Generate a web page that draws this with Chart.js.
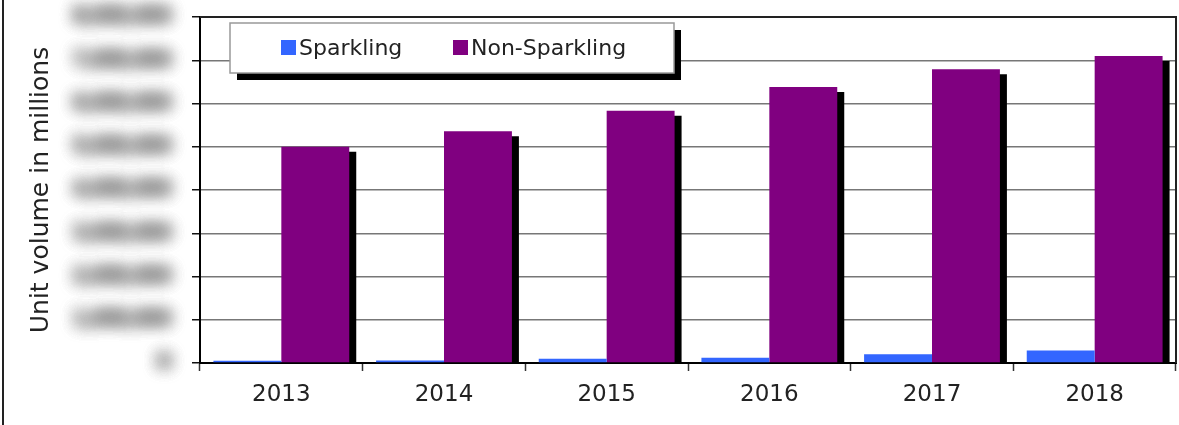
<!DOCTYPE html>
<html><head><meta charset="utf-8">
<script src="https://cdn.jsdelivr.net/npm/chart.js@4/dist/chart.umd.min.js"></script>
<style>html,body{margin:0;padding:0;background:#fff;}#wrap{width:1179px;height:425px;position:relative;overflow:hidden}</style>
</head><body><div id="wrap"><canvas id="c" width="1179" height="425"></canvas></div>
<script>
const categories = ['2013', '2014', '2015', '2016', '2017', '2018'];
const sparkling = [0.05, 0.06, 0.10, 0.12, 0.20, 0.29];
const nonSparkling = [5.00, 5.36, 5.83, 6.38, 6.79, 7.10];
const yTickValues = [0, 1, 2, 3, 4, 5, 6, 7, 8];
const yTickLabels = ['0', '1,000,000', '2,000,000', '3,000,000', '4,000,000', '5,000,000', '6,000,000', '7,000,000', '8,000,000'];
const seriesNames = ['Sparkling', 'Non-Sparkling'];
const seriesColors = ['#3366FF', '#800080'];

const FONT = '"DejaVu Sans", Verdana, sans-serif';

const decor = {
  id: 'decor',
  beforeDraw(chart) {
    const s = chart.scales.y;
    if (s && !s.__blur) {
      const orig = s.drawLabels.bind(s);
      s.drawLabels = function (area) {
        const ctx = this.ctx;
        ctx.save();
        ctx.filter = 'blur(8px)';
        orig(area);
        orig(area);
        orig(area);
        ctx.restore();
      };
      s.__blur = true;
    }
  },
  beforeDatasetDraw(chart, args) {
    const ctx = chart.ctx;
    ctx.save();
    if (args.index === 1) {
      ctx.shadowColor = '#000';
      ctx.shadowBlur = 0;
      ctx.shadowOffsetX = 7;
      ctx.shadowOffsetY = 5;
    }
  },
  afterDatasetDraw(chart) {
    chart.ctx.restore();
  },
  afterDraw(chart) {
    const ctx = chart.ctx;
    const a = chart.chartArea;
    ctx.save();
    // plot frame top / right
    ctx.strokeStyle = '#222';
    ctx.lineWidth = 2;
    ctx.beginPath();
    ctx.moveTo(a.left, a.top);
    ctx.lineTo(a.right, a.top);
    ctx.lineTo(a.right, a.bottom);
    ctx.stroke();
    // outer frame left line
    ctx.fillStyle = '#222';
    ctx.fillRect(2, 0, 2, 425);
    // legend box
    const lx = 230, ly = 23, lw = 444, lh = 50;
    ctx.fillStyle = '#000';
    ctx.fillRect(lx + 7, ly + 7, lw, lh);
    ctx.fillStyle = '#fff';
    ctx.fillRect(lx, ly, lw, lh);
    ctx.strokeStyle = '#999';
    ctx.lineWidth = 1.5;
    ctx.strokeRect(lx, ly, lw, lh);
    const itemX = [281, 453];
    ctx.font = '22px ' + FONT;
    ctx.textBaseline = 'alphabetic';
    ctx.textAlign = 'left';
    chart.data.datasets.forEach((ds, i) => {
      ctx.fillStyle = ds.backgroundColor;
      ctx.fillRect(itemX[i], 40, 15, 15);
      ctx.fillStyle = '#222';
      ctx.fillText(ds.label, itemX[i] + 18, 55);
    });
    ctx.restore();
  }
};

new Chart(document.getElementById('c'), {
  type: 'bar',
  data: {
    labels: categories,
    datasets: [
      { label: seriesNames[0], data: sparkling, backgroundColor: seriesColors[0], clip: 0 },
      { label: seriesNames[1], data: nonSparkling, backgroundColor: seriesColors[1], clip: 0 }
    ]
  },
  options: {
    responsive: false,
    animation: false,
    devicePixelRatio: 1,
    layout: { padding: { left: 0, right: 3, top: 17, bottom: 0 } },
    datasets: { bar: { categoryPercentage: 0.835, barPercentage: 1.0 } },
    plugins: { legend: { display: false }, tooltip: { enabled: false } },
    scales: {
      x: {
        offset: true,
        grid: { drawOnChartArea: false, offset: true, tickLength: 8, tickColor: '#333', tickWidth: 1.5 },
        border: { color: '#000', width: 2 },
        ticks: { font: { family: FONT, size: 23 }, color: '#222', padding: 10 },
        afterFit(s) { s.height = 62; s.paddingLeft = 0; s.paddingRight = 0; }
      },
      y: {
        min: 0, max: 8,
        afterBuildTicks(s) { s.ticks = yTickValues.map(v => ({ value: v })); },
        grid: { color: '#777', lineWidth: 1.5, tickLength: 8, tickColor: '#111', tickWidth: 1.5 },
        border: { color: '#000', width: 2 },
        ticks: {
          font: { family: FONT, size: 17, weight: 'bold' }, color: '#777', padding: 22,
          callback: (v) => { const i = yTickValues.indexOf(v); return i >= 0 ? yTickLabels[i] : ''; }
        },
        title: { display: true, text: 'Unit volume in millions', font: { family: FONT, size: 25 }, color: '#222', padding: { top: 26, bottom: 0 } },
        afterFit(s) { s.width = 200; s.paddingTop = 0; s.paddingBottom = 0; }
      }
    }
  },
  plugins: [decor]
});
</script>
</body></html>
